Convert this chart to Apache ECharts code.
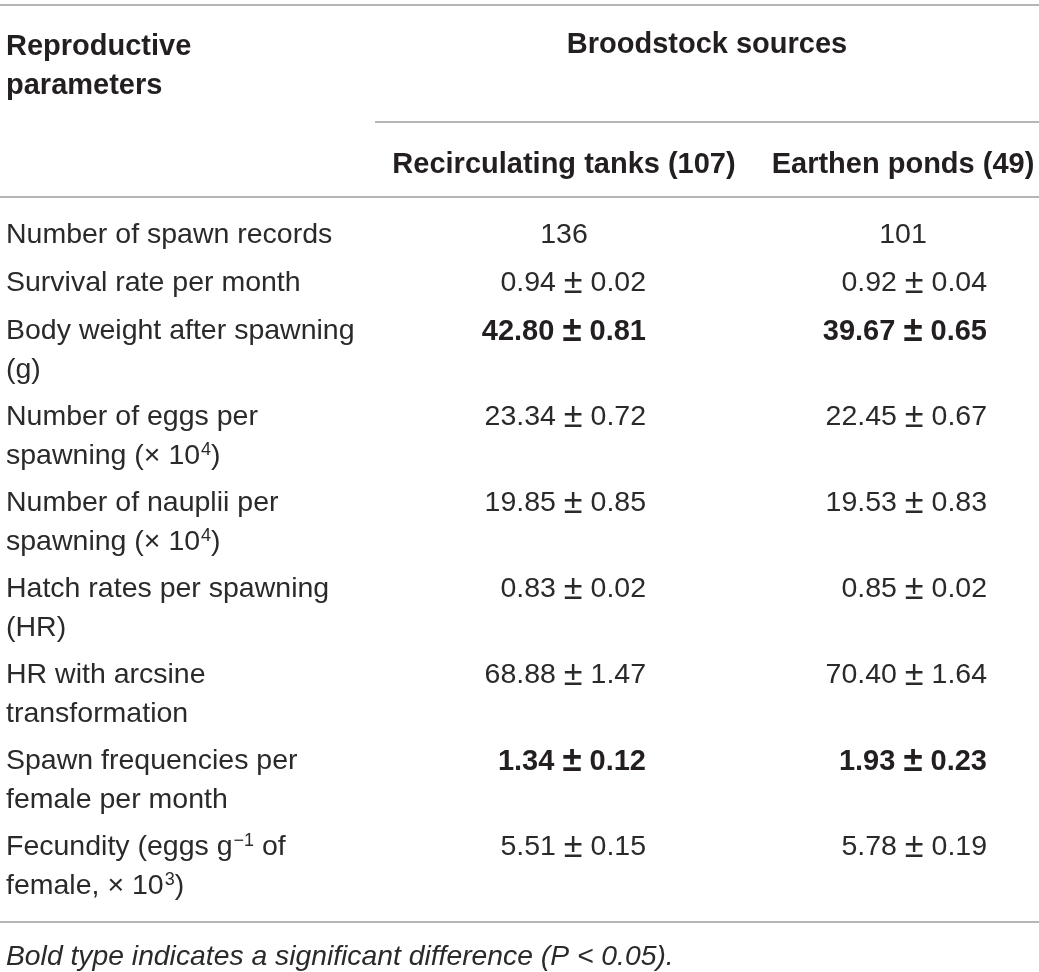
<!DOCTYPE html>
<html>
<head>
<meta charset="utf-8">
<script src="https://cdn.jsdelivr.net/npm/echarts@6/dist/echarts.min.js"></script>
<style>
html,body{margin:0;padding:0;background:#ffffff;}
#chart{width:1039px;height:972px;}
</style>
</head>
<body>
<div id="chart"></div>
<script>
// ---------------- DATA ----------------
const stubHeader = "Reproductive\nparameters";
const spannerHeader = "Broodstock sources";
const groupHeaders = ["Recirculating tanks (107)", "Earthen ponds (49)"];
const rowLabels = [
  "Number of spawn records",
  "Survival rate per month",
  "Body weight after spawning\n(g)",
  "Number of eggs per\nspawning (\u00d7 10{sup|4})",
  "Number of nauplii per\nspawning (\u00d7 10{sup|4})",
  "Hatch rates per spawning\n(HR)",
  "HR with arcsine\ntransformation",
  "Spawn frequencies per\nfemale per month",
  "Fecundity (eggs g{sup|\u22121} of\nfemale, \u00d7 10{sup|3})"
];
const tanksMean = [136, 0.94, 42.80, 23.34, 19.85, 0.83, 68.88, 1.34, 5.51];
const tanksSE   = [null, 0.02, 0.81, 0.72, 0.85, 0.02, 1.47, 0.12, 0.15];
const pondsMean = [101, 0.92, 39.67, 22.45, 19.53, 0.85, 70.40, 1.93, 5.78];
const pondsSE   = [null, 0.04, 0.65, 0.67, 0.83, 0.02, 1.64, 0.23, 0.19];
const significant = [false, false, true, false, false, false, false, true, false];
const footnote = "Bold type indicates a significant difference (P < 0.05).";

// ---------------- LAYOUT / STYLE ----------------
const W = 1039, H = 972;
const FONT = "'Liberation Sans', Arial, Helvetica, sans-serif";
const TEXT_COLOR = "#231f20";
const BODY_COLOR = "#2a2a2a";
const RULE_COLOR = "#9d9d9d";
const FS_BODY = 28.5, FS_BOLD = 29, FS_FOOT = 28.3;
const LINE_H = 39;
const TEXT_SHIFT = 2.5;
const stubX = 6;
const colCenter = [564, 903];
const colRight = [646, 987];
const spanX0 = 375;
const ruleTop = 5, ruleSpan = 122, ruleHead = 197, ruleBottom = 922;
const headLine1 = 44, spanLine = 42, groupLine = 162;
const firstRowCenter = 233;
const rowPad = 10, rowLineStep = 38;
const footCenter = 955;

function nLines(s) { return s.split("\n").length; }
function fmtVal(m, se) {
  if (se === null || se === undefined) return String(m);
  return m.toFixed(2) + " {pm|\u00b1} " + se.toFixed(2);
}

// Build cells (text items) from data
const cells = [];
cells.push({ x: stubX, y: headLine1, text: stubHeader, align: "left", weight: "bold" });
cells.push({ x: (spanX0 + W) / 2, y: spanLine, text: spannerHeader, align: "center", weight: "bold" });
groupHeaders.forEach((g, j) => cells.push({ x: colCenter[j], y: groupLine, text: g, align: "center", weight: "bold" }));

let yc = firstRowCenter;
rowLabels.forEach((lab, i) => {
  cells.push({ x: stubX, y: yc, text: lab, align: "left", weight: "normal" });
  const series = [[tanksMean, tanksSE], [pondsMean, pondsSE]];
  series.forEach((s, j) => {
    const se = s[1][i];
    const centred = (se === null);
    cells.push({
      x: centred ? colCenter[j] : colRight[j],
      y: yc,
      text: fmtVal(s[0][i], se),
      align: centred ? "center" : "right",
      weight: significant[i] ? "bold" : "normal"
    });
  });
  yc += rowPad + rowLineStep * nLines(lab);
});
cells.push({ x: stubX, y: footCenter, text: footnote, align: "left", weight: "normal", italic: true, foot: true });

const rules = [
  [0, W, ruleTop],
  [spanX0, W, ruleSpan],
  [0, W, ruleHead],
  [0, W, ruleBottom]
];

const chart = echarts.init(document.getElementById("chart"), null, { renderer: "canvas" });
chart.setOption({
  animation: false,
  backgroundColor: "#ffffff",
  grid: { left: 0, right: 0, top: 0, bottom: 0 },
  xAxis: { type: "value", min: 0, max: W, show: false },
  yAxis: { type: "value", min: 0, max: H, inverse: true, show: false },
  series: [
    {
      type: "custom",
      name: "rules",
      silent: true,
      data: rules,
      renderItem: function (params, api) {
        const a = api.coord([api.value(0), api.value(2)]);
        const b = api.coord([api.value(1), api.value(2)]);
        return {
          type: "line",
          shape: { x1: a[0], y1: a[1], x2: b[0], y2: b[1] },
          style: { stroke: RULE_COLOR, lineWidth: 1.6 }
        };
      }
    },
    {
      type: "custom",
      name: "cells",
      silent: true,
      data: cells.map(c => [c.x, c.y]),
      renderItem: function (params, api) {
        const c = cells[params.dataIndex];
        const p = api.coord([api.value(0), api.value(1)]);
        const bold = c.weight === "bold";
        const fs = c.foot ? FS_FOOT : (bold ? FS_BOLD : FS_BODY);
        const fill = bold ? TEXT_COLOR : BODY_COLOR;
        return {
          type: "text",
          x: p[0],
          y: p[1] - LINE_H / 2 + TEXT_SHIFT,
          style: {
            text: c.text,
            fill: fill,
            fontFamily: FONT,
            fontSize: fs,
            fontWeight: c.weight,
            fontStyle: c.italic ? "italic" : "normal",
            align: c.align,
            verticalAlign: "top",
            lineHeight: LINE_H,
            rich: {
              sup: {
                fontFamily: FONT,
                fontSize: 18,
                fill: fill,
                verticalAlign: "top",
                lineHeight: 20,
                padding: [4, 0, 0, 1]
              },
              pm: {
                fontFamily: FONT,
                fontSize: fs * 1.2,
                fontWeight: c.weight,
                fill: fill,
                lineHeight: LINE_H,
                padding: [0, 0, 0, 0]
              }
            }
          }
        };
      }
    }
  ]
});
</script>
</body>
</html>
